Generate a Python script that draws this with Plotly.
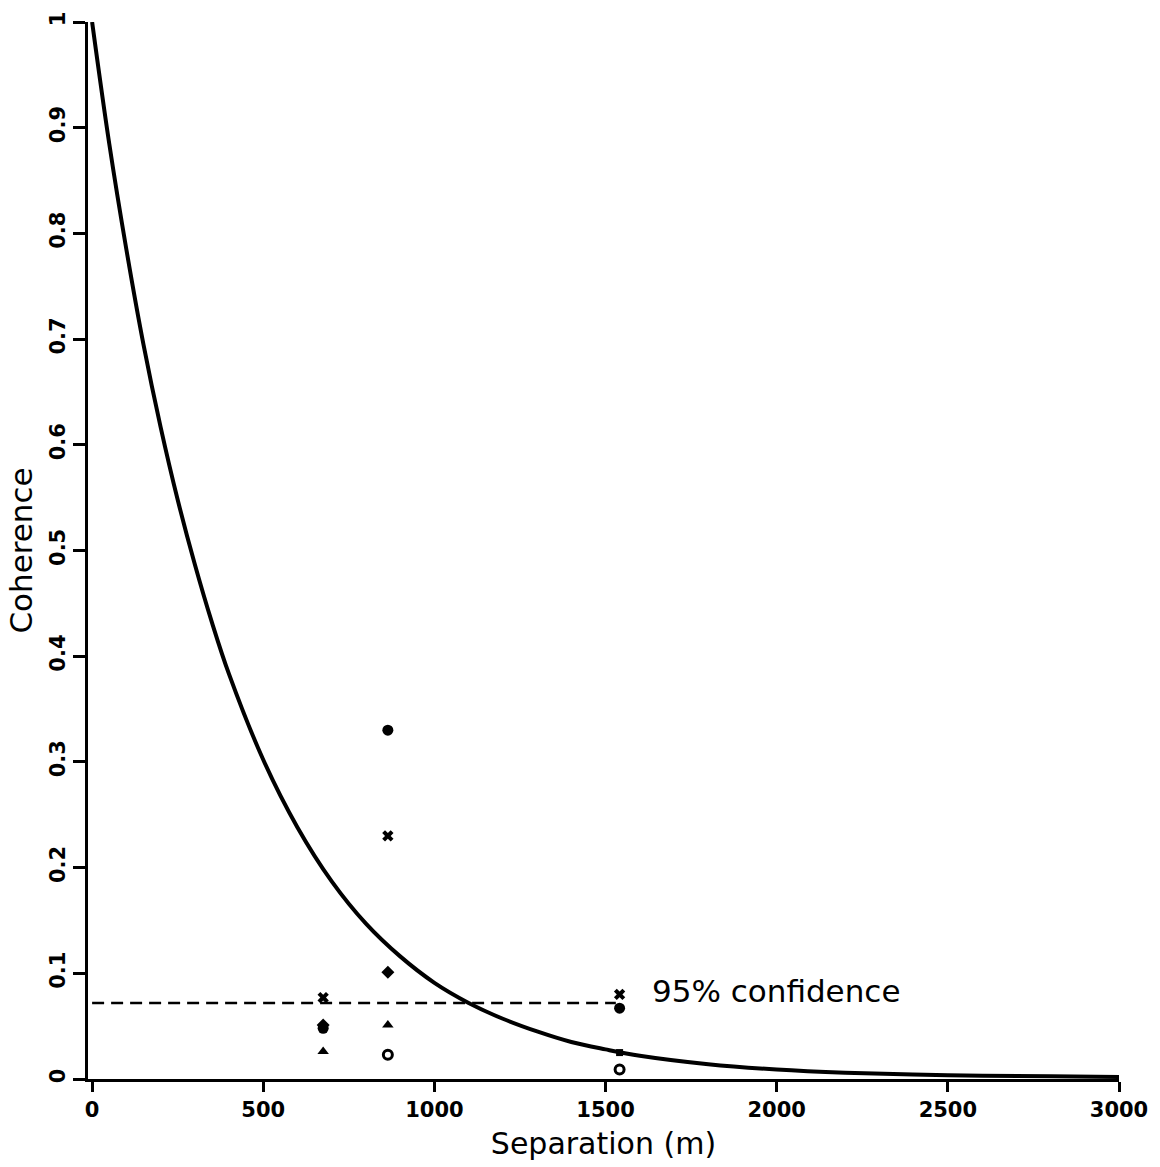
import plotly.graph_objects as go

# Fitted coherence curve
curve_x = [0, 50, 100, 150, 200, 250, 300, 350, 400, 500, 600, 700, 800, 900, 1000, 1100, 1200, 1300, 1400, 1500, 1600, 1800, 2000, 2200, 2500, 2800, 3000]
curve_y = [1.0, 0.885, 0.785, 0.695, 0.617, 0.548, 0.487, 0.432, 0.383, 0.302, 0.238, 0.187, 0.147, 0.116, 0.091, 0.072, 0.057, 0.045, 0.035, 0.028, 0.022, 0.014, 0.009, 0.006, 0.0035, 0.0025, 0.002]

# Observed coherences
circle_x = [675, 864, 1541]
circle_y = [0.048, 0.330, 0.067]
cross_x = [675, 864, 1541]
cross_y = [0.077, 0.230, 0.080]
diamond_x = [675, 864]
diamond_y = [0.051, 0.101]
triangle_x = [675, 864]
triangle_y = [0.026, 0.051]
open_x = [864, 1541]
open_y = [0.023, 0.009]
square_x = [1541]
square_y = [0.025]

conf_x = [0, 1530]
conf_y = [0.072, 0.072]

x_ticks = [0, 500, 1000, 1500, 2000, 2500, 3000]
y_ticks = [0, 0.1, 0.2, 0.3, 0.4, 0.5, 0.6, 0.7, 0.8, 0.9, 1]
y_labels = ["0", "0.1", "0.2", "0.3", "0.4", "0.5", "0.6", "0.7", "0.8", "0.9", "1"]

fig = go.Figure()
fig.add_trace(go.Scatter(x=curve_x, y=curve_y, mode="lines", line=dict(color="black", width=4, shape="spline", smoothing=1.0), showlegend=False))
fig.add_trace(go.Scatter(x=conf_x, y=conf_y, mode="lines", line=dict(color="black", width=2.5, dash="12px,7px"), showlegend=False))

mk = dict(color="black")
fig.add_trace(go.Scatter(x=circle_x, y=circle_y, mode="markers", marker=dict(symbol="circle", size=11, **mk), showlegend=False))
fig.add_trace(go.Scatter(x=cross_x, y=cross_y, mode="markers", marker=dict(symbol="x", size=10, **mk), showlegend=False))
fig.add_trace(go.Scatter(x=diamond_x, y=diamond_y, mode="markers", marker=dict(symbol="diamond", size=10, **mk), showlegend=False))
fig.add_trace(go.Scatter(x=triangle_x, y=triangle_y, mode="markers", marker=dict(symbol="triangle-up", size=10, **mk), showlegend=False))
fig.add_trace(go.Scatter(x=open_x, y=open_y, mode="markers", marker=dict(symbol="circle-open", size=9, line=dict(width=3, color="black"), color="black"), showlegend=False))
fig.add_trace(go.Scatter(x=square_x, y=square_y, mode="markers", marker=dict(symbol="square", size=7, **mk), showlegend=False))

fig.add_annotation(x=1630, y=0.083, text="95% confidence", showarrow=False, xanchor="left", yanchor="middle",
                   font=dict(family="DejaVu Sans", size=31, color="black"))

fig.update_layout(
    width=1160, height=1167,
    margin=dict(l=88, r=40, t=17, b=88),
    paper_bgcolor="white", plot_bgcolor="white",
    font=dict(family="DejaVu Sans", color="black"),
    xaxis=dict(range=[-12, 3000], tickvals=x_ticks, ticktext=[str(v) for v in x_ticks],
               showgrid=False, zeroline=False, showline=True, linecolor="black", linewidth=3,
               ticks="outside", ticklen=10, tickwidth=2.5, tickcolor="black",
               tickfont=dict(family="DejaVu Sans", size=21, weight="bold"),
               title=dict(text="Separation (m)", font=dict(family="DejaVu Sans", size=30), standoff=12)),
    yaxis=dict(range=[0, 1], tickvals=y_ticks, ticktext=y_labels, tickangle=-90,
               showgrid=False, zeroline=False, showline=True, linecolor="black", linewidth=3,
               ticks="outside", ticklen=12, tickwidth=2.5, tickcolor="black",
               tickfont=dict(family="DejaVu Sans", size=21, weight="bold"),
               title=dict(text="Coherence", font=dict(family="DejaVu Sans", size=31), standoff=4)),
)

fig.write_html("out.html")
